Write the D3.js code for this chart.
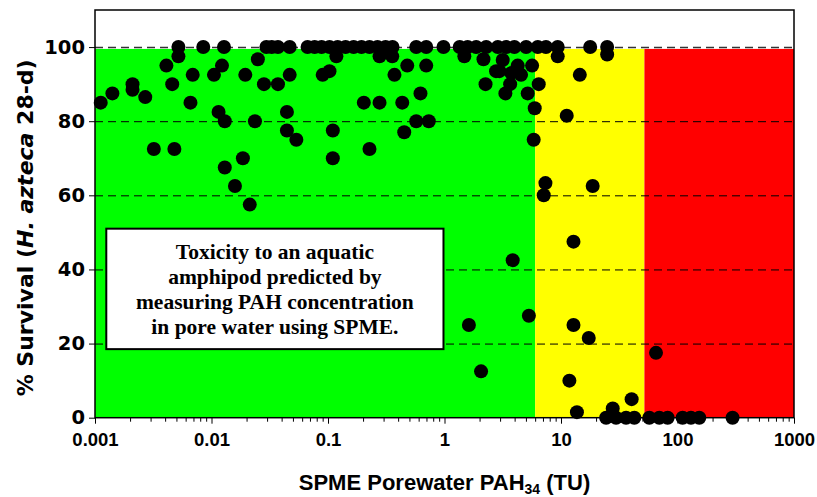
<!DOCTYPE html>
<html>
<head>
<meta charset="utf-8">
<script src="https://cdn.jsdelivr.net/npm/d3@7"></script>
<style>
  body { margin: 0; background: #fff; }
  svg { display: block; }
</style>
</head>
<body>
<div id="chart"></div>
<script>

// SPME porewater PAH34 toxic units (x) and % survival (y) for each sediment
let pahTU = [
  0.00112, 0.00141, 0.0021, 0.0021, 0.0027, 0.0032, 0.0041, 0.0046, 0.0048, 0.0052,
  0.0052, 0.0066, 0.0069, 0.0085, 0.0105, 0.0115, 0.0123, 0.0128, 0.013, 0.013,
  0.0159, 0.0186, 0.0195, 0.0213, 0.0236, 0.025, 0.0282, 0.0296, 0.0329, 0.0372,
  0.0372, 0.0469, 0.0469, 0.0444, 0.0444, 0.0535, 0.0668, 0.0768, 0.0881, 0.103,
  0.121, 0.1415, 0.166, 0.194, 0.227, 0.266, 0.312, 0.358, 0.118, 0.277,
  0.356, 0.090, 0.103, 0.110, 0.110, 0.203, 0.277, 0.227, 0.372, 0.434,
  0.479, 0.451, 0.572, 0.622, 0.697, 0.733, 0.572, 0.697, 0.98, 1.35,
  1.58, 1.87, 2.28, 2.87, 3.38, 3.98, 5.02, 1.48, 2.16, 2.25,
  2.77, 3.33, 3.66, 4.25, 4.54, 5.18, 5.65, 5.95, 5.83, 3.16,
  2.96, 3.75, 3.85, 1.62, 5.3, 2.06,
  6.32, 7.43, 9.37, 9.37, 6.44, 11.2, 14.5, 17.8, 24.9, 24.9,
  7.35, 7.11, 18.7, 12.8, 12.8, 17.3, 11.8, 40.4, 13.7, 27.8,
  24.4, 29.7, 36.2, 42.6,
  65.4, 57.3, 69.8, 82.3, 110.6, 130.5, 153.8, 297
];

let survival = [
  85, 87.5, 88.5, 90, 86.5, 72.5, 95, 90, 72.5, 100,
  97.5, 85, 92.5, 100, 92.5, 82.5, 95, 100, 80, 67.5,
  62.5, 70, 92.5, 57.5, 80, 96.7, 90, 100, 100, 100,
  90, 100, 92.5, 82.5, 77.5, 75, 100, 100, 100, 100,
  100, 100, 100, 100, 100, 100, 100, 100, 97.5, 97.5,
  97.5, 92.5, 93.5, 77.5, 70, 85, 85, 72.5, 92.5, 85,
  95, 77, 80, 87.5, 95, 80, 100, 100, 100, 100,
  100, 100, 100, 100, 100, 100, 100, 97.5, 96.7, 90,
  93.5, 87.5, 90, 95, 92.5, 87.5, 95, 83.5, 75, 96.5,
  93.5, 93, 42.5, 25, 27.5, 12.5,
  100, 100, 100, 97.5, 90, 81.5, 92.5, 100, 100, 98,
  63.3, 60, 62.5, 47.5, 25, 21.5, 10, 5, 1.5, 2.5,
  0, 0, 0, 0,
  17.5, 0, 0, 0, 0, 0, 0, 0
];

// toxicity zones: green (non-toxic), yellow (uncertain), red (toxic)
let zoneBounds = [0.001, 6, 52, 1000];
let zoneColors = ["#00ff00", "#ffff00", "#ff0000"];
let zoneTop = 99.5;

let xMajorTicks = [0.001, 0.01, 0.1, 1, 10, 100, 1000];
let xTickLabels = ["0.001", "0.01", "0.1", "1", "10", "100", "1000"];
let yTicks = [0, 20, 40, 60, 80, 100];

let noteLines = [
  "Toxicity to an aquatic",
  "amphipod predicted by",
  "measuring PAH concentration",
  "in pore water using SPME."
];

let W = 817, H = 497;
let margin = {top: 10, right: 23, bottom: 79.3, left: 95};
let width = W - margin.left - margin.right;
let height = H - margin.top - margin.bottom;

let points = pahTU.map(function(d, i) { return {x: d, y: survival[i]}; });

let xScale = d3.scaleLog()
  .domain([0.001, 1000])
  .range([0, width]);

let yScale = d3.scaleLinear()
  .domain([0, 110])
  .range([height, 0]);

let svg = d3.select("#chart")
  .append("svg")
  .attr("width", W)
  .attr("height", H);

let g = svg.append("g")
  .attr("transform", "translate(" + margin.left + "," + margin.top + ")");

// colour zones
g.selectAll(".zone")
  .data(zoneColors)
  .enter().append("rect")
  .attr("class", "zone")
  .attr("x", function(d, i) { return xScale(zoneBounds[i]); })
  .attr("width", function(d, i) { return xScale(zoneBounds[i + 1]) - xScale(zoneBounds[i]); })
  .attr("y", yScale(zoneTop))
  .attr("height", height - yScale(zoneTop))
  .attr("fill", function(d) { return d; });

// dashed grid lines
let grid = g.append("g")
  .call(d3.axisLeft(yScale).tickValues(yTicks.slice(1)).tickSize(-width).tickFormat(""));
grid.select(".domain").remove();
grid.selectAll(".tick line")
  .attr("stroke", function(d) { return d === 100 ? "#333" : "#000"; })
  .attr("stroke-width", function(d) { return d === 100 ? 1.6 : 1; })
  .attr("stroke-dasharray", "8,5");

// note box
let note = g.append("g");
note.append("rect")
  .attr("x", xScale(0.00125))
  .attr("y", yScale(51))
  .attr("width", xScale(0.98) - xScale(0.00125))
  .attr("height", yScale(18.5) - yScale(51))
  .attr("fill", "#fff")
  .attr("stroke", "#000")
  .attr("stroke-width", 2);

note.selectAll("text")
  .data(noteLines)
  .enter().append("text")
  .attr("x", (xScale(0.00125) + xScale(0.98)) / 2)
  .attr("y", function(d, i) { return yScale(51) + 30 + i * 25; })
  .attr("text-anchor", "middle")
  .style("font-family", "'Liberation Serif', 'Times New Roman', serif")
  .style("font-weight", "bold")
  .style("font-size", "21.5px")
  .text(function(d) { return d; });

// data points
g.selectAll(".dot")
  .data(points)
  .enter().append("circle")
  .attr("class", "dot")
  .attr("cx", function(d) { return xScale(d.x); })
  .attr("cy", function(d) { return yScale(d.y); })
  .attr("r", 7)
  .attr("fill", "#000");

// frame
g.append("rect")
  .attr("width", width)
  .attr("height", height)
  .attr("fill", "none")
  .attr("stroke", "#000")
  .attr("stroke-width", 1.5);

// y axis
let yAxisGroup = g.append("g")
  .call(d3.axisLeft(yScale).tickValues(yTicks).tickSize(6).tickPadding(4));
yAxisGroup.select(".domain").remove();
yAxisGroup.selectAll("text")
  .style("font-family", "'DejaVu Sans', sans-serif")
  .style("font-weight", "bold")
  .style("font-size", "19.5px")
  .attr("fill", "#000");

// x axis: minor then major ticks
let minorTicks = xScale.ticks().filter(function(d) { return xMajorTicks.indexOf(d) < 0; });
let xMinor = g.append("g")
  .attr("transform", "translate(0," + height + ")")
  .call(d3.axisBottom(xScale).tickValues(minorTicks).tickSize(4).tickFormat(""));
xMinor.select(".domain").remove();

let xAxisGroup = g.append("g")
  .attr("transform", "translate(0," + height + ")")
  .call(d3.axisBottom(xScale).tickValues(xMajorTicks).tickSize(6).tickPadding(9)
    .tickFormat(function(d, i) { return xTickLabels[i]; }));
xAxisGroup.select(".domain").remove();
xAxisGroup.selectAll("text")
  .style("font-family", "'Liberation Sans', Arial, sans-serif")
  .style("font-weight", "bold")
  .style("font-size", "18.5px")
  .attr("fill", "#000");

// axis titles
let xTitle = svg.append("text")
  .attr("x", margin.left + width / 2)
  .attr("y", 490)
  .attr("text-anchor", "middle")
  .style("font-family", "'Liberation Sans', Arial, sans-serif")
  .style("font-weight", "bold")
  .style("font-size", "22px");
xTitle.append("tspan").text("SPME Porewater PAH");
xTitle.append("tspan").attr("dy", 4).style("font-size", "14px").text("34");
xTitle.append("tspan").attr("dy", -4).text(" (TU)");

let yTitle = svg.append("text")
  .attr("transform", "translate(33," + (margin.top + height / 2 + 14) + ") rotate(-90)")
  .attr("text-anchor", "middle")
  .style("font-family", "'DejaVu Sans', sans-serif")
  .style("font-weight", "bold")
  .style("font-size", "22px");
yTitle.append("tspan").text("% Survival (");
yTitle.append("tspan").style("font-style", "italic").text("H. azteca");
yTitle.append("tspan").text(" 28-d)");

</script>
</body>
</html>
